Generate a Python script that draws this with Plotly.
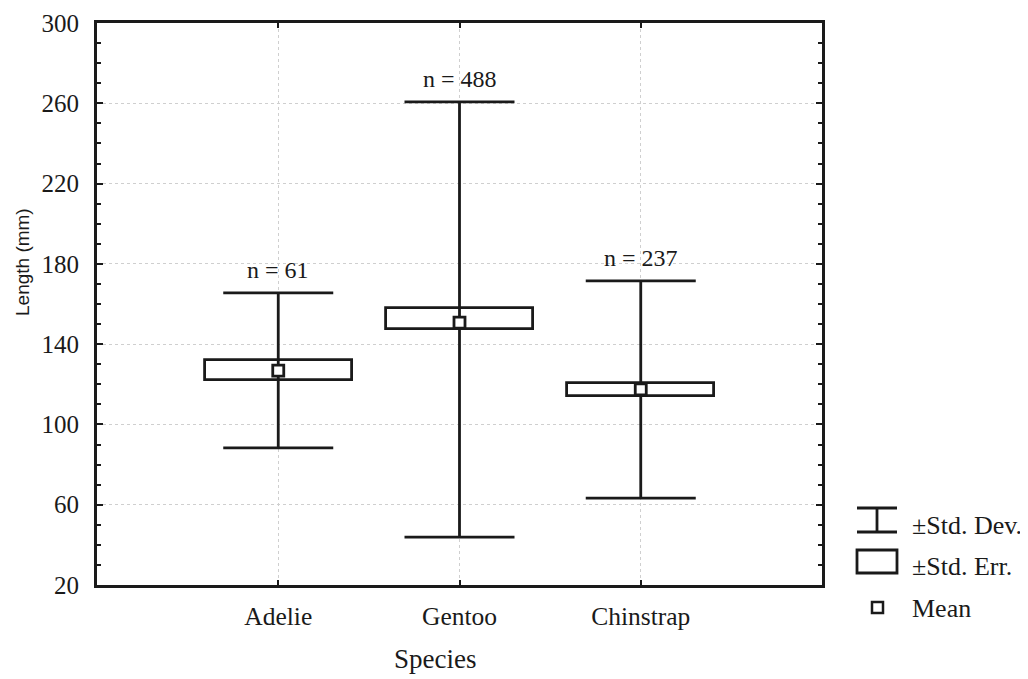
import plotly.graph_objects as go

species = ["Adelie", "Gentoo", "Chinstrap"]
counts = [61, 488, 237]
means = [126.8, 150.7, 117.5]
se_low = [122.0, 147.6, 114.2]
se_high = [132.0, 158.0, 120.5]
sd_low = [88.3, 43.9, 63.3]
sd_high = [165.5, 260.7, 171.5]
y_ticks = [20, 60, 100, 140, 180, 220, 260, 300]

xpos = list(range(len(species)))
SERIF = "Liberation Serif, Times New Roman, serif"
SANS = "Liberation Sans, Arial, sans-serif"
LW = 2.8
BLACK = "#1a1a1a"

# page body has an 8px margin; plot area target (page px): x 97..822, y 23..585
OFF = 8
PL, PR, PT, PB = 97, 822, 23, 585

fig = go.Figure()

# SD whiskers (vertical line + caps) via error bars
fig.add_trace(go.Scatter(
    x=xpos, y=means, mode="markers",
    marker=dict(size=1, color="rgba(0,0,0,0)"),
    error_y=dict(type="data", symmetric=False,
                 array=[h - m for h, m in zip(sd_high, means)],
                 arrayminus=[m - l for m, l in zip(means, sd_low)],
                 width=55, thickness=LW, color=BLACK),
    showlegend=False, hoverinfo="skip"))

# SE boxes
fig.add_trace(go.Bar(
    x=xpos, y=[h - l for h, l in zip(se_high, se_low)], base=se_low,
    width=0.81,
    marker=dict(color="rgba(255,255,255,0)", line=dict(color=BLACK, width=LW)),
    showlegend=False, hoverinfo="skip"))

# Means
fig.add_trace(go.Scatter(
    x=xpos, y=means, mode="markers",
    marker=dict(symbol="square", size=11, color="white",
                line=dict(color=BLACK, width=LW)),
    showlegend=False, hoverinfo="skip"))

# n labels
for xp, n, top in zip(xpos, counts, sd_high):
    fig.add_annotation(x=xp, y=top, text=f"n = {n}", showarrow=False,
                       yanchor="bottom", yshift=8,
                       font=dict(family=SERIF, size=24, color=BLACK))


def px2paper(px, py):
    return (px - PL) / (PR - PL), (PB - py) / (PB - PT)


def pline(x0, y0, x1, y1):
    a, b = px2paper(x0, y0)
    c, d = px2paper(x1, y1)
    fig.add_shape(type="line", xref="paper", yref="paper", x0=a, y0=b, x1=c, y1=d,
                  line=dict(color=BLACK, width=LW))


def prect(x0, y0, x1, y1, w=LW):
    a, b = px2paper(x0, y0)
    c, d = px2paper(x1, y1)
    fig.add_shape(type="rect", xref="paper", yref="paper", x0=a, y0=b, x1=c, y1=d,
                  line=dict(color=BLACK, width=w), fillcolor="white")


def ptext(px, py, txt, font, xanchor="left", angle=0):
    a, b = px2paper(px, py)
    fig.add_annotation(xref="paper", yref="paper", x=a, y=b, text=txt,
                       showarrow=False, xanchor=xanchor, yanchor="middle",
                       textangle=angle, font=font)


# Custom legend
pline(857, 508, 897, 508)
pline(857, 532, 897, 532)
pline(877, 508, 877, 532)
prect(857, 550, 897, 573)
prect(872, 602, 883, 613, w=2.5)

legend_font = dict(family=SERIF, size=26, color=BLACK)
for ty, txt in [(525, "±Std. Dev."), (566, "±Std. Err."), (608, "Mean")]:
    ptext(910, ty, txt, legend_font)

# Axis titles (positioned as in the reference, not centred)
ptext(435, 659, "Species", dict(family=SERIF, size=27, color=BLACK), xanchor="center")
ptext(22, 262, "Length (mm)", dict(family=SANS, size=19, color=BLACK),
      xanchor="center", angle=-90)

fig.update_layout(
    width=1028 - OFF, height=679 - OFF,
    margin=dict(l=PL - OFF, r=1028 - PR, t=PT - OFF, b=679 - PB, autoexpand=False),
    paper_bgcolor="white", plot_bgcolor="white",
    showlegend=False, bargap=0,
    font=dict(family=SERIF, size=24, color=BLACK),
    xaxis=dict(
        range=[-1, 3], tickvals=xpos, ticktext=species, automargin=False,
        showline=True, linecolor=BLACK, linewidth=LW, mirror="allticks",
        ticks="inside", ticklen=5, tickwidth=2, tickcolor=BLACK,
        showgrid=True, gridcolor="#cfcfcf", griddash="dot", gridwidth=1,
        zeroline=False, ticklabelstandoff=6,
        tickfont=dict(family=SERIF, size=25.5, color=BLACK),
    ),
    yaxis=dict(
        range=[20, 300], tickvals=y_ticks, automargin=False,
        showline=True, linecolor=BLACK, linewidth=LW, mirror="allticks",
        ticks="inside", ticklen=6, tickwidth=2, tickcolor=BLACK,
        minor=dict(dtick=10, ticks="inside", ticklen=4, tickwidth=2, tickcolor=BLACK,
                   showgrid=False),
        showgrid=True, gridcolor="#cfcfcf", griddash="dot", gridwidth=1,
        zeroline=False, ticklabelstandoff=10,
        tickfont=dict(family=SERIF, size=25, color=BLACK),
    ),
)

fig.write_html("out.html")
